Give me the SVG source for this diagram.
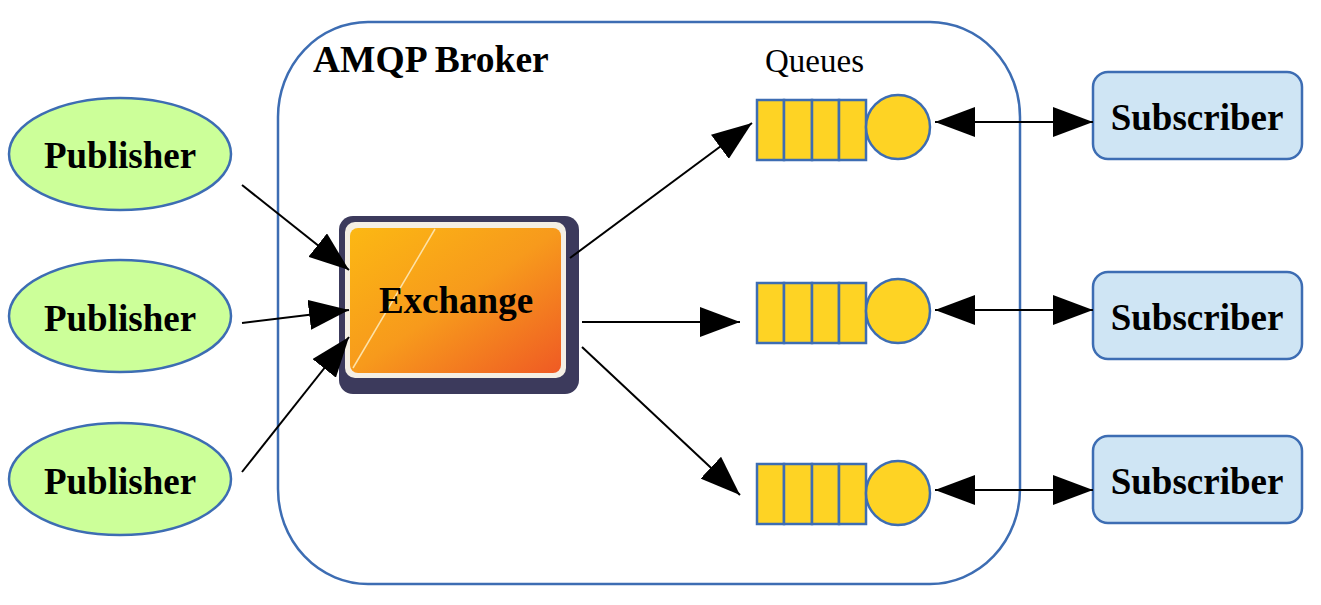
<svg xmlns="http://www.w3.org/2000/svg" width="1321" height="605" viewBox="0 0 1321 605">
<style>
.pub{fill:#ccff99;stroke:#3d6db3;stroke-width:2.5}
.sub{fill:#cfe5f4;stroke:#3d6db3;stroke-width:2.5}
.q{fill:#fed324;stroke:#3d6db3;stroke-width:2.5}
.lbl{font-family:"Liberation Serif","Times New Roman",serif;font-weight:bold;font-size:37px;fill:#000;text-anchor:middle}
.conn{stroke:#000;stroke-width:2;fill:none}
</style>
<defs>
<marker id="ah" viewBox="0 0 40 30" refX="40" refY="15" markerWidth="40" markerHeight="30" markerUnits="userSpaceOnUse" orient="auto-start-reverse">
<path d="M0,0 L40,15 L0,30 z" fill="#000"/>
</marker>
<linearGradient id="og" x1="0" y1="0" x2="1" y2="1">
<stop offset="0" stop-color="#fcb813"/>
<stop offset="0.5" stop-color="#f79a1c"/>
<stop offset="1" stop-color="#ef5a24"/>
</linearGradient>
</defs>
<g id="broker">
<rect x="278" y="22" width="742" height="562" rx="90" ry="95" fill="#fff" stroke="#3d6db3" stroke-width="2.5"/>
<text x="313" y="72" style="font-family:'Liberation Serif','Times New Roman',serif;font-weight:bold;font-size:37.5px">AMQP Broker</text>
<text x="765" y="72" style="font-family:'Liberation Serif','Times New Roman',serif;font-size:33px">Queues</text>
</g>
<g id="pub1"><ellipse class="pub" cx="120" cy="154" rx="111" ry="56"/><text class="lbl" x="120" y="168">Publisher</text></g>
<g id="pub2"><ellipse class="pub" cx="120" cy="316" rx="111" ry="56"/><text class="lbl" x="120" y="331">Publisher</text></g>
<g id="pub3"><ellipse class="pub" cx="120" cy="479" rx="111" ry="56"/><text class="lbl" x="120" y="494">Publisher</text></g>
<g id="exchange">
<rect x="339" y="216" width="240" height="178" rx="14" fill="#3c3a5c"/>
<rect x="345" y="222" width="221" height="156" rx="10" fill="#f4efe4"/>
<rect x="350" y="228" width="211" height="145" rx="8" fill="url(#og)"/>
<line x1="435" y1="229" x2="353" y2="368" stroke="#fde2a8" stroke-width="1.5"/>
<text class="lbl" x="456" y="313">Exchange</text>
</g>
<g id="queue1">
<rect class="q" x="757" y="100" width="27" height="60"/><rect class="q" x="784" y="100" width="28" height="60"/><rect class="q" x="812" y="100" width="27" height="60"/><rect class="q" x="839" y="100" width="27" height="60"/>
<circle class="q" cx="898" cy="127" r="32"/>
</g>
<g id="queue2">
<rect class="q" x="757" y="283" width="27" height="60"/><rect class="q" x="784" y="283" width="28" height="60"/><rect class="q" x="812" y="283" width="27" height="60"/><rect class="q" x="839" y="283" width="27" height="60"/>
<circle class="q" cx="898" cy="311" r="32"/>
</g>
<g id="queue3">
<rect class="q" x="757" y="464" width="27" height="60"/><rect class="q" x="784" y="464" width="28" height="60"/><rect class="q" x="812" y="464" width="27" height="60"/><rect class="q" x="839" y="464" width="27" height="60"/>
<circle class="q" cx="898" cy="493" r="32"/>
</g>
<g id="sub1"><rect class="sub" x="1093" y="72" width="209" height="87" rx="15"/><text class="lbl" x="1197" y="130">Subscriber</text></g>
<g id="sub2"><rect class="sub" x="1093" y="272" width="209" height="87" rx="15"/><text class="lbl" x="1197" y="330">Subscriber</text></g>
<g id="sub3"><rect class="sub" x="1093" y="436" width="209" height="87" rx="15"/><text class="lbl" x="1197" y="494">Subscriber</text></g>
<g id="connectors">
<line class="conn" x1="242" y1="185" x2="349" y2="270" marker-end="url(#ah)"/>
<line class="conn" x1="242" y1="323" x2="349" y2="310" marker-end="url(#ah)"/>
<line class="conn" x1="242" y1="472" x2="349" y2="337" marker-end="url(#ah)"/>
<line class="conn" x1="570" y1="258" x2="752" y2="123" marker-end="url(#ah)"/>
<line class="conn" x1="582" y1="322" x2="740" y2="322" marker-end="url(#ah)"/>
<line class="conn" x1="582" y1="347" x2="740" y2="495" marker-end="url(#ah)"/>
<line class="conn" x1="935" y1="122" x2="1093" y2="122" marker-start="url(#ah)" marker-end="url(#ah)"/>
<line class="conn" x1="935" y1="310" x2="1093" y2="310" marker-start="url(#ah)" marker-end="url(#ah)"/>
<line class="conn" x1="935" y1="490" x2="1093" y2="490" marker-start="url(#ah)" marker-end="url(#ah)"/>
</g>
</svg>
